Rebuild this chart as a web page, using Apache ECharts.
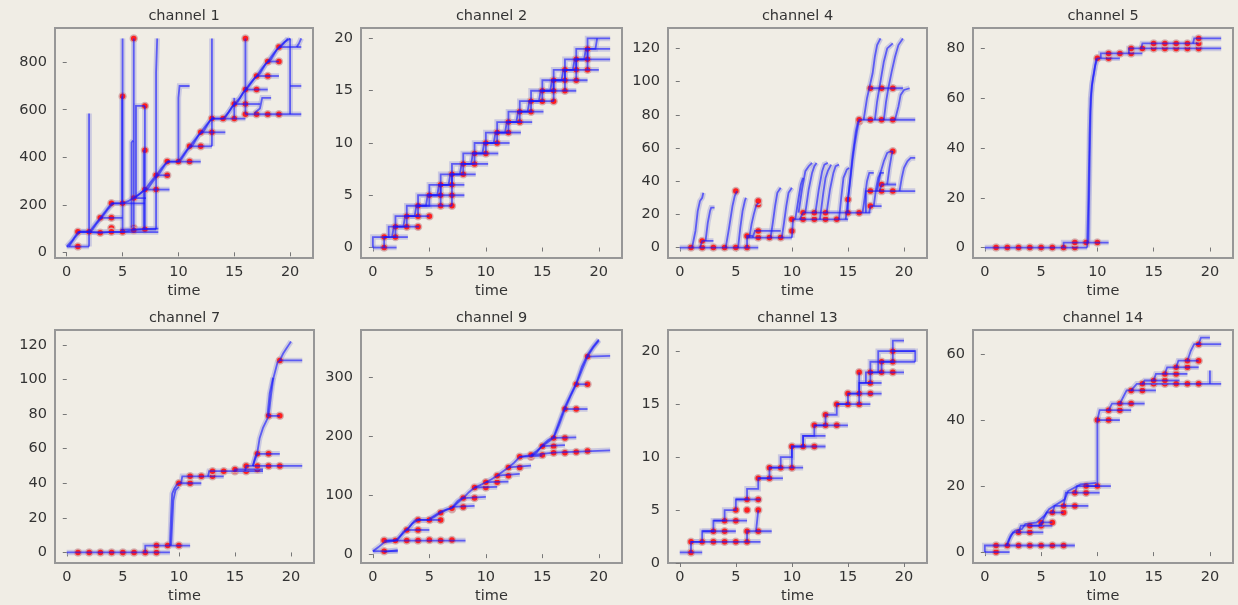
<!DOCTYPE html>
<html><head><meta charset="utf-8">
<script src="https://cdn.jsdelivr.net/npm/echarts@6/dist/echarts.min.js"></script>
<style>html,body{margin:0;padding:0;background:#f0ede5;}#c{width:1238px;height:605px;}</style>
</head><body><div id="c"></div>
<script>
const timeTicks = [0, 5, 10, 15, 20];
const timeRange = [-1.05, 22.05];
const titles = ['channel 1','channel 2','channel 4','channel 5','channel 7','channel 9','channel 13','channel 14'];

const ch1YTicks = [0, 200, 400, 600, 800];
const ch1YRange = [-24, 944];
const ch1Lines = [
 [0,24, 0.5,50, 1,85, 2,85, 2.5,115, 3,145, 3.5,175, 4,206, 5,206, 5.5,215, 6,230, 6.5,245, 7,264, 7.5,295, 8,324, 8.5,355, 9,382, 10,382, 10.5,415, 11,446, 11.5,475, 12,505, 12.5,535, 13,563, 14,563, 14.5,590, 15,624, 15.5,650, 16,685, 16.5,715, 17,742, 17.5,775, 18,803, 18.5,835, 19,864, 19.5,885, 20,900],
 [0.2,24, 0.7,60, 1.2,88, 2.2,88, 2.7,122, 3.2,150, 3.7,182, 4.2,208],
 [6.2,232, 6.8,256, 7.3,270, 7.8,304, 8.3,332, 8.8,368, 9.2,386],
 [10.2,386, 10.8,430, 11.3,452, 11.8,492, 12.3,512, 12.8,552, 13.2,567],
 [14.2,567, 14.8,612, 15.3,632, 15.8,672, 16.2,692, 16.8,732, 17.3,752, 17.8,792, 18.3,812, 18.8,852, 19.3,872, 19.8,900],
 [0,24, 2,24],
 [1,85, 8.2,85],
 [4.8,95, 8.2,100],
 [2,85, 3,82, 4,86, 5,86, 6,93, 7,97, 8,97],
 [3,145, 5,145],
 [4,206, 7,206],
 [6,228, 7.1,228],
 [7,264, 9.2,264],
 [8,324, 9.2,324],
 [9,382, 12,382],
 [11,446, 13,446],
 [12,505, 14.2,505],
 [13,563, 16,563],
 [16,581, 21,581],
 [15,624, 17.3,624],
 [16.8,585, 17.3,605, 17.5,650, 18.3,650],
 [16,685, 18,685],
 [17,742, 19,742],
 [18,803, 19,803],
 [19,864, 21,864],
 [20,700, 21,700],
 [2,24, 2,584],
 [5,86, 5,900],
 [4.95,206, 4.95,657],
 [6,93, 6,900],
 [5.8,102, 5.8,462, 5.95,470],
 [6.2,228, 6.2,616, 7,616],
 [7,97, 7,616],
 [6.9,97, 6.9,430],
 [8,97, 8,757, 8.1,900],
 [10,382, 10,650, 10.1,700, 11,700],
 [13,446, 13,900],
 [15,563, 15,650],
 [16,581, 16,900],
 [20,581, 20,900],
 [20.6,864, 20.8,880, 21,900]
];
const ch1Points = [[1,24],[1,86],[2,86],[3,82],[3,145],[4,145],[4,206],[4,102],[4,86],[5,86],[5,206],[5,657],[6,900],[6,228],[6,102],[6,93],[7,616],[7,429],[7,264],[7,97],[8,264],[8,324],[9,324],[9,382],[10,382],[11,382],[11,446],[12,446],[12,505],[13,505],[13,563],[14,563],[15,563],[15,624],[16,624],[16,581],[16,685],[16,900],[17,581],[17,685],[17,742],[18,742],[18,581],[18,803],[19,803],[19,581],[19,864]];

const ch2YTicks = [0, 5, 10, 15, 20];
const ch2YRange = [-1, 21];
const ch2Lines = [
 [0,0, 2.1,0],
 [0,0, 0,1, 1.4,1, 1.4,2, 2,2, 2,3, 3,3, 3,4, 4,4, 4,5, 5,5, 5,6, 6,6, 6,7, 7,7, 7,8, 8,8, 8,9, 9,9, 9,10, 10,10, 10,11, 11,11, 11,12, 12,12, 12,13, 13,13, 13,14, 14,14, 14,15, 15,15, 15,16, 16,16, 16,17, 17,17, 17,18, 18,18, 18,19, 19,19, 19,20, 21,20],
 [1,0, 1,1, 2,1, 2,2, 3,2, 3,3, 4,3, 4,4, 5,4, 5,5, 6,5, 6,6, 7,6, 7,7, 8,7, 8,8, 9,8, 9,9, 10,9, 10,10, 11,10, 11,11, 12,11, 12,12, 13,12, 13,13, 14,13, 14,14, 15,14, 15,15, 16,15, 16,16, 17,16, 17,17, 18,17, 18,18, 19,18, 19,19, 21,19],
 [1.7,1, 1.85,2, 2.7,2, 2.85,3, 3.7,3, 3.85,4, 4.7,4, 4.85,5, 5.7,5, 5.85,6, 6.7,6, 6.85,7, 7.7,7, 7.85,8, 8.7,8, 8.85,9, 9.7,9, 9.85,10, 10.7,10, 10.85,11, 11.7,11, 11.85,12, 12.7,12, 12.85,13, 13.7,13, 13.85,14, 14.7,14, 14.85,15, 15.7,15, 15.85,16, 16.7,16, 16.85,17, 17.7,17, 17.85,18, 18.7,18, 18.85,19, 19.7,19, 19.85,20],
 [1,1, 3.1,1], [2,2, 4.1,2], [3,3, 5,3], [4,4, 7,4], [5,5, 8.1,5], [6,6, 8.1,6], [7,7, 9.1,7],
 [8,8, 10.2,8], [9,9, 11.1,9], [10,10, 12.1,10], [11,11, 13.1,11], [12,12, 14.1,12], [13,13, 15.1,13],
 [14,14, 16,14], [15,15, 18,15], [16,16, 19,16], [17,17, 20,17], [18,18, 21,18],
 [6,4, 6,6], [7,4, 7,7], [16,14, 16,16], [17,15, 17,17], [18,16, 18,18], [19,17, 19,19]
];
const ch2Points = [[1,0],[1,1],[2,1],[2,2],[3,2],[4,2],[3,3],[4,3],[5,3],[4,4],[6,4],[7,4],[5,5],[6,5],[7,5],[6,6],[7,6],[7,7],[8,7],[8,8],[9,8],[9,9],[10,9],[10,10],[11,10],[11,11],[12,11],[12,12],[13,12],[13,13],[14,13],[14,14],[15,14],[16,14],[15,15],[16,15],[17,15],[16,16],[17,16],[18,16],[17,17],[18,17],[19,17],[18,18],[19,18],[19,19]];

const ch4YTicks = [0, 20, 40, 60, 80, 100, 120];
const ch4YRange = [-6.3, 132.3];
const ch4Lines = [
 [0,0, 7,0],
 [1.8,0, 2,4, 3,4],
 [1.1,0, 1.4,10, 1.6,22, 1.8,28, 2.0,30, 2.1,33],
 [2.3,4, 2.5,15, 2.7,22, 2.8,24, 3.1,24],
 [4.1,0, 4.4,12, 4.7,25, 4.9,31, 5.1,34],
 [5.2,0, 5.4,12, 5.6,22, 5.8,28, 5.9,30],
 [6.2,6, 6.4,14, 6.6,20, 6.8,25, 7.0,27],
 [6,0, 6,7, 6.5,7],
 [6.5,6, 6.7,10, 9,10],
 [6,6, 10,6],
 [8.1,6, 8.3,15, 8.5,25, 8.7,33, 9.0,36],
 [9.1,6, 9.3,15, 9.5,25, 9.7,33, 10.0,36],
 [10,6, 10.1,17, 15,17],
 [10.7,17, 11,21, 15,21],
 [15,21, 17,21],
 [10.3,17, 10.6,30, 10.8,38, 11.0,42],
 [10.6,21, 10.9,35, 11.2,46, 11.5,49, 11.8,51],
 [11.2,21, 11.5,35, 11.8,45, 12.0,49, 12.2,51],
 [12.1,21, 12.4,35, 12.7,46, 12.9,50, 13.2,51],
 [12.5,17, 12.8,33, 13.0,42, 13.2,46, 13.5,50],
 [13.1,21, 13.4,35, 13.7,45, 13.9,49, 14.2,50],
 [14.2,17, 14.4,30, 14.6,42, 14.9,47, 15.1,48],
 [15,21, 15,29, 15.2,40, 15.4,52, 15.6,62, 15.8,70, 16,77, 21,77],
 [14.8,17, 15.1,35, 15.4,55, 15.7,70, 15.9,76],
 [16.4,77, 16.7,90, 16.9,96, 17.2,105, 17.4,115, 17.6,122, 17.9,126],
 [17.4,77, 17.6,88, 17.8,96, 18.0,104, 18.2,112, 18.5,120, 19.0,123],
 [18.2,77, 18.4,88, 18.6,96, 18.9,106, 19.2,115, 19.5,122, 19.9,126],
 [19.2,77, 19.5,85, 19.7,92, 20.0,95, 20.5,96],
 [17,96, 19.9,96],
 [16.3,21, 16.5,30, 16.7,40, 16.9,45, 17.3,45],
 [16.9,21, 17,25, 18,25],
 [17.3,25, 17.5,35, 17.7,42, 17.9,45, 18.2,45],
 [16.6,21, 16.6,34, 21,34],
 [17.6,34, 17.9,45, 18.2,52, 18.5,57, 18.8,58, 19,58],
 [17.8,34, 18,38, 19.3,38],
 [18.5,38, 18.7,48, 18.9,56, 19.0,58],
 [19.6,34, 19.8,42, 20.0,48, 20.3,52, 20.6,54, 21,54]
];
const ch4Points = [[1,0],[2,0],[3,0],[4,0],[5,0],[6,0],[2,4],[5,34],[6,7],[7,26],[7,28],[7,6],[7,10],[8,6],[9,6],[10,10],[10,17],[11,17],[11,21],[12,17],[12,21],[13,17],[13,21],[14,17],[15,21],[15,29],[16,21],[16,76],[16,77],[17,77],[17,96],[18,77],[18,96],[19,77],[19,96],[17,25],[17,34],[18,34],[18,38],[19,34],[19,58]];

const ch5YTicks = [0, 20, 40, 60, 80];
const ch5YRange = [-4.2, 88.2];
const ch5Lines = [
 [0,0, 9.1,0],
 [7,0, 7,2, 11,2],
 [9.1,0, 9.1,2, 9.2,20, 9.3,45, 9.4,60, 9.6,68, 9.8,73, 10,76, 12,76],
 [9.2,2, 9.3,30, 9.4,55, 9.5,65, 9.7,70, 9.9,76],
 [10.3,76, 10.3,78, 14,78],
 [12.8,78, 12.8,80, 21,80],
 [13.9,80, 14,82, 19,82],
 [18.5,82, 18.6,84, 21,84]
];
const ch5Points = [[1,0],[2,0],[3,0],[4,0],[5,0],[6,0],[7,0],[8,0],[8,2],[9,2],[10,2],[10,76],[11,76],[11,78],[12,78],[13,78],[13,80],[14,80],[15,80],[16,80],[17,80],[18,80],[19,80],[15,82],[16,82],[17,82],[18,82],[19,82],[19,84]];

const ch7YTicks = [0, 20, 40, 60, 80, 100, 120];
const ch7YRange = [-6.1, 128.6];
const ch7Lines = [
 [0,0, 9.2,0],
 [7,0, 7,4, 11,4],
 [9.2,4, 9.3,20, 9.4,34, 9.6,37, 9.8,39, 10,40, 12,40],
 [9.3,4, 9.5,30, 9.7,36, 10,38],
 [10.2,40, 10.3,44, 14,44],
 [12.6,44, 12.7,47, 17.5,47],
 [15,47, 15,48, 17.5,48],
 [15.9,47, 16,50, 21,50],
 [16.6,50, 16.8,54, 17,57, 19,57],
 [16.6,50, 16.8,55, 17.0,58, 17.2,66, 17.5,72, 17.8,76, 18,79, 19,79],
 [18,79, 18.2,90, 18.4,100, 18.6,105, 18.8,110, 19,111, 21,111],
 [19,111, 19.3,115, 19.6,118, 19.8,120, 20,122],
 [17.9,79, 18.1,92, 18.4,101]
];
const ch7Points = [[1,0],[2,0],[3,0],[4,0],[5,0],[6,0],[7,0],[8,0],[8,4],[9,4],[10,4],[10,40],[11,40],[11,44],[12,44],[13,44],[13,47],[14,47],[15,47],[15,48],[16,47],[16,49],[16,50],[17,48],[17,50],[18,50],[19,50],[17,57],[18,57],[18,79],[19,79],[19,111]];

const ch9YTicks = [0, 100, 200, 300];
const ch9YRange = [-15, 380];
const ch9Lines = [
 [0,5, 0.5,12, 1,20, 2,23, 2.5,32, 3,41, 3.5,52, 4,58, 5,58, 5.5,64, 6,70, 6.5,75, 7,78, 7.5,87, 8,95, 8.5,105, 9,113, 9.5,117, 10,122, 10.5,127, 11,133, 11.5,140, 12,147, 12.5,155, 13,165, 14,168, 14.5,175, 15,183, 15.5,190, 16,197, 16.5,220, 17,246, 17.5,268, 18,288, 18.5,312, 19,335, 19.5,350, 20,362],
 [1.2,23, 2.2,24, 2.7,38, 3.2,45, 3.7,57, 4.2,60],
 [5,60, 5.5,66, 6,72, 7,79, 7.5,90, 8,97],
 [14,166, 14.5,172, 15,185, 15.5,193, 16,199, 16.5,225, 17,250, 17.5,270, 18,290, 18.5,318, 19,338, 19.5,352, 20,364],
 [0,5, 2.2,5], [1,4, 2.2,7], [1,23, 8.2,23], [3,41, 5,41], [4,58, 6,58], [7,80, 9,82],
 [8,95, 10,97], [9,113, 11,114], [10,122, 12,123], [11,133, 13,136], [12,147, 14,150], [13,165, 15,167],
 [14,168, 15,170, 16,172, 21,176], [15,183, 17,185], [16,197, 18,198], [17,246, 19,246], [18,288, 19,288], [19,335, 21,336]
];
const ch9Points = [[1,5],[1,23],[2,23],[3,23],[4,23],[5,24],[6,23],[7,24],[3,41],[4,41],[4,58],[5,58],[6,58],[6,70],[7,76],[7,78],[8,80],[8,95],[9,95],[9,113],[10,113],[10,122],[11,122],[11,133],[12,133],[12,147],[13,147],[13,165],[14,165],[14,168],[15,168],[15,183],[16,183],[16,172],[17,172],[18,173],[19,175],[16,197],[17,197],[17,246],[18,246],[18,288],[19,288],[19,335]];

const ch13YTicks = [0, 5, 10, 15, 20];
const ch13YRange = [0, 22];
const ch13Lines = [
 [0,1, 2,1],
 [1,1, 1,2, 2,2, 2,3, 3,3, 3,4, 4,4, 4,5, 5,5, 5,6, 6,6, 6,7, 7,7, 7,8, 8,8, 8,9, 9,9, 9,10, 10,10, 10,11, 11,11, 11,12, 12,12, 12,13, 13,13, 13,14, 14,14, 14,15, 15,15, 15,16, 16,16, 16,17, 17,17, 17,18, 18,18, 18,19, 19,19, 19,20, 21,20],
 [1,2, 7.2,2], [2,3, 5,3], [6,2, 6,3, 8.2,3], [3,4, 6,4], [5,6, 7.2,6], [6.8,3, 7,5],
 [7,8, 9.2,8], [8,9, 11,9], [10,9, 10,11, 13,11], [11,11, 11,12, 13,12], [12,13, 15,13],
 [14,15, 17,15], [15,16, 18,16], [16,15, 16,18], [16,17, 18,17], [16.6,17, 16.6,18, 20,18],
 [17,18, 17,19, 21,19], [17.7,18, 17.7,20, 21,20, 21,19], [19,20, 19,21, 20,21]
];
const ch13Points = [[1,1],[1,2],[2,2],[3,2],[4,2],[5,2],[6,2],[3,3],[4,3],[6,3],[7,3],[4,4],[5,4],[5,5],[6,5],[6,6],[7,6],[7,5],[7,8],[8,8],[8,9],[9,9],[10,9],[10,11],[11,11],[12,11],[12,13],[13,13],[13,14],[14,13],[14,15],[15,15],[15,16],[16,15],[16,16],[16,18],[17,16],[17,17],[17,18],[18,18],[18,19],[19,18],[19,19],[19,20]];

const ch14YTicks = [0, 20, 40, 60];
const ch14YRange = [-3.3, 67.3];
const ch14Lines = [
 [0,0, 2.2,0],
 [0,0, 0,2, 8,2],
 [2,2, 2.2,4, 2.5,6, 3,6, 3.2,8, 5,8, 5.2,10, 5.5,12, 6,12, 6.2,14, 7,14, 7.2,18, 8,18, 8.2,20, 10,20, 10,30, 10,40, 10.2,43, 11,43, 11.3,45, 12,45, 12.3,47, 12.6,49, 13,49, 13.5,51, 14,51, 14.2,52, 15,52, 15.2,54, 16,54, 16.2,56, 17,56, 17.2,58, 18,58, 18.3,61, 18.6,63, 19,63, 19.2,65, 20,65],
 [1.9,2, 2.3,5, 2.7,6.5, 3.3,7, 3.6,8.5, 4.6,9, 5.3,11, 5.7,13, 6.4,14.5, 7.1,16, 7.4,18.5, 8.5,20.5, 9.9,21],
 [3,6, 5.2,6], [4,8, 6,8], [4.8,8, 5,9, 6,9], [6,12, 7,12], [7,14, 9.2,14], [8,18, 10.2,18], [9,20, 11.2,20],
 [10,40, 12,40], [11,43, 13,43], [12,45, 14.2,45], [13,49, 15.2,49], [14,51, 21,51], [15,52, 17.3,52],
 [16,54, 18,54], [17,56, 19,56], [18,58, 19,58], [18.8,63, 21,63], [20,51, 20,55]
];
const ch14Points = [[1,0],[1,2],[2,2],[3,2],[4,2],[5,2],[6,2],[7,2],[3,6],[4,6],[4,8],[5,8],[5,9],[6,9],[6,12],[7,12],[7,14],[8,14],[8,18],[9,18],[9,20],[10,20],[10,40],[11,40],[11,43],[12,43],[12,45],[13,45],[13,49],[14,49],[14,51],[15,51],[15,52],[16,51],[16,52],[16,54],[17,51],[17,54],[17,56],[18,51],[18,56],[18,58],[19,51],[19,58],[19,63]];

const panelLines = [ch1Lines, ch2Lines, ch4Lines, ch5Lines, ch7Lines, ch9Lines, ch13Lines, ch14Lines];
const panelPoints = [ch1Points, ch2Points, ch4Points, ch5Points, ch7Points, ch9Points, ch13Points, ch14Points];
const panelYTicks = [ch1YTicks, ch2YTicks, ch4YTicks, ch5YTicks, ch7YTicks, ch9YTicks, ch13YTicks, ch14YTicks];
const panelYRange = [ch1YRange, ch2YRange, ch4YRange, ch5YRange, ch7YRange, ch9YRange, ch13YRange, ch14YRange];

// layout: [left, top, width, height]
const boxes = [[55,28,258,230],[361,28,261,230],[668,28,259,230],[973,28,260,230],
               [55,330,259,233],[361,330,261,233],[668,330,259,233],[973,330,260,233]];
const FONT = 'DejaVu Sans';
const FS = 14.5;
const txt = '#333333';

function toCoords(flat) { const c = []; for (let i = 0; i < flat.length; i += 2) c.push([flat[i], flat[i+1]]); return c; }

const grid = [], xAxis = [], yAxis = [], series = [], title = [];
boxes.forEach((b, i) => {
  grid.push({left: b[0], top: b[1], width: b[2], height: b[3], show: true, borderColor: '#979797', borderWidth: 2, backgroundColor: '#f0ede5', containLabel: false});
  title.push({text: titles[i], left: b[0] + b[2] / 2, top: b[1] - 19, textAlign: 'center', padding: 0,
    textStyle: {fontFamily: FONT, fontSize: FS, fontWeight: 'normal', color: txt}});
  xAxis.push({type: 'value', gridIndex: i, min: timeRange[0], max: timeRange[1],
    name: 'time', nameLocation: 'middle', nameGap: 26,
    nameTextStyle: {fontFamily: FONT, fontSize: FS, color: txt},
    axisLine: {show: false}, splitLine: {show: false},
    axisTick: {show: true, length: 4, customValues: timeTicks, lineStyle: {color: '#777', width: 1}},
    axisLabel: {customValues: timeTicks, margin: 7, fontFamily: FONT, fontSize: FS, color: txt}});
  yAxis.push({type: 'value', gridIndex: i, min: panelYRange[i][0], max: panelYRange[i][1],
    axisLine: {show: false}, splitLine: {show: false},
    axisTick: {show: true, length: 4, customValues: panelYTicks[i], lineStyle: {color: '#777', width: 1}},
    axisLabel: {customValues: panelYTicks[i], margin: 8, fontFamily: FONT, fontSize: FS, color: txt}});
  const lineData = panelLines[i].map(l => ({coords: toCoords(l)}));
  series.push({type: 'lines', coordinateSystem: 'cartesian2d', xAxisIndex: i, yAxisIndex: i, polyline: true,
    silent: true, z: 1, data: lineData,
    lineStyle: {color: 'rgba(165,165,220,0.5)', width: 5.5, opacity: 1}});
  series.push({type: 'scatter', xAxisIndex: i, yAxisIndex: i, z: 2, silent: true, symbolSize: 7,
    data: panelPoints[i],
    itemStyle: {color: '#ff1f1f', borderColor: 'rgba(210,175,175,0.9)', borderWidth: 1.5, opacity: 1}});
  series.push({type: 'lines', coordinateSystem: 'cartesian2d', xAxisIndex: i, yAxisIndex: i, polyline: true,
    silent: true, z: 3, data: lineData,
    lineStyle: {color: 'rgba(25,25,255,0.62)', width: 1.8, opacity: 1}});
});

const chart = echarts.init(document.getElementById('c'), null, {renderer: 'canvas'});
chart.setOption({backgroundColor: '#f0ede5', animation: false, title, grid, xAxis, yAxis, series});
</script></body></html>
